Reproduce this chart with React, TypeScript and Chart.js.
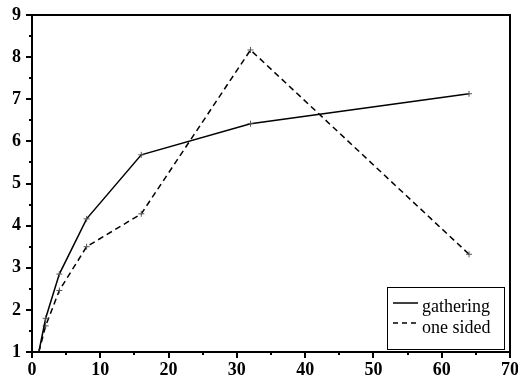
import React, { useEffect, useRef } from 'react';
import { Chart, registerables } from 'chart.js';

Chart.register(...registerables);

// Speedup curves for the two communication schemes
const processors = [1, 2, 4, 8, 16, 32, 64];
const gatheringSpeedup = [1.0, 1.8, 2.85, 4.16, 5.68, 6.42, 7.13];
const oneSidedSpeedup = [1.0, 1.62, 2.46, 3.5, 4.28, 8.17, 3.32];
const seriesNames = ['gathering', 'one sided'];

// Axis ranges and tick spacing
const xRange = [0, 70];
const xMajorStep = 10;
const xMinorStep = 5;
const yRange = [1, 9];
const yMajorStep = 1;
const yMinorStep = 0.5;

const SERIF = 'Liberation Serif, DejaVu Serif, serif';

const framePlugin = {
  id: 'frameAndTicks',
  afterDraw(chart: any) {
    const { ctx, chartArea: a, scales } = chart;
    const xs = scales.x;
    const ys = scales.y;
    ctx.save();
    ctx.strokeStyle = '#000';
    ctx.lineWidth = 2;
    ctx.lineCap = 'butt';
    // box around the plot area
    ctx.strokeRect(a.left, a.top, a.right - a.left, a.bottom - a.top);
    // x tick marks (outward, below axis)
    ctx.beginPath();
    for (let v = xRange[0]; v <= xRange[1] + 1e-9; v += xMinorStep) {
      const px = Math.round(xs.getPixelForValue(v));
      const major = Math.abs(v / xMajorStep - Math.round(v / xMajorStep)) < 1e-6;
      const len = major ? 6 : 3;
      ctx.moveTo(px, a.bottom);
      ctx.lineTo(px, a.bottom + len);
    }
    // y tick marks (outward, left of axis)
    for (let v = yRange[0]; v <= yRange[1] + 1e-9; v += yMinorStep) {
      const py = Math.round(ys.getPixelForValue(v));
      const major = Math.abs(v / yMajorStep - Math.round(v / yMajorStep)) < 1e-6;
      const len = major ? 6 : 3;
      ctx.moveTo(a.left, py);
      ctx.lineTo(a.left - len, py);
    }
    ctx.stroke();

    // legend box in the lower right corner
    const bx = 387, by = 287, bw = 117, bh = 62;
    ctx.fillStyle = '#fff';
    ctx.fillRect(bx, by, bw, bh);
    ctx.lineWidth = 1;
    ctx.strokeRect(bx + 0.5, by + 0.5, bw, bh);
    const rows = [
      { y: 303, dash: [] as number[], label: seriesNames[0], base: 312 },
      { y: 323, dash: [5, 4], label: seriesNames[1], base: 333 },
    ];
    ctx.font = `18px ${SERIF}`;
    ctx.textBaseline = 'alphabetic';
    ctx.textAlign = 'left';
    for (const r of rows) {
      ctx.beginPath();
      ctx.setLineDash(r.dash);
      ctx.lineWidth = 1.5;
      ctx.moveTo(393, r.y);
      ctx.lineTo(418, r.y);
      ctx.stroke();
      ctx.setLineDash([]);
      ctx.fillStyle = '#000';
      ctx.fillText(r.label, 422, r.base);
    }
    ctx.restore();
  },
};

export default function App() {
  const ref = useRef<HTMLCanvasElement>(null);

  useEffect(() => {
    if (!ref.current) return;
    const toPoints = (ys: number[]) => processors.map((x, i) => ({ x, y: ys[i] }));
    const chart = new Chart(ref.current, {
      type: 'line',
      data: {
        datasets: [
          {
            label: seriesNames[0],
            data: toPoints(gatheringSpeedup),
            borderColor: '#000',
            borderWidth: 1.5,
            pointStyle: 'cross',
            pointRadius: 3,
            pointBorderWidth: 1,
            pointBorderColor: '#555',
            fill: false,
            tension: 0,
          },
          {
            label: seriesNames[1],
            data: toPoints(oneSidedSpeedup),
            borderColor: '#000',
            borderWidth: 1.5,
            borderDash: [6, 4],
            pointStyle: 'cross',
            pointRadius: 3,
            pointBorderWidth: 1,
            pointBorderColor: '#555',
            fill: false,
            tension: 0,
          },
        ],
      },
      options: {
        responsive: false,
        animation: false,
        font: { family: SERIF },
        layout: { padding: { top: 15, right: 8, left: 0, bottom: 0 } },
        plugins: {
          legend: { display: false },
          tooltip: { enabled: false },
        },
        scales: {
          x: {
            type: 'linear',
            min: xRange[0],
            max: xRange[1],
            border: { display: false },
            grid: { display: false, drawTicks: false, tickLength: 0 },
            ticks: {
              stepSize: xMajorStep,
              color: '#000',
              padding: 8,
              maxRotation: 0,
              font: { family: SERIF, size: 18, weight: 'bold' },
            },
            afterFit(scale: any) {
              scale.height = 30;
              scale.paddingLeft = 0;
              scale.paddingRight = 0;
            },
          },
          y: {
            type: 'linear',
            min: yRange[0],
            max: yRange[1],
            border: { display: false },
            grid: { display: false, drawTicks: false, tickLength: 0 },
            ticks: {
              stepSize: yMajorStep,
              color: '#000',
              padding: 11,
              font: { family: SERIF, size: 18, weight: 'bold' },
            },
            afterFit(scale: any) {
              scale.width = 32;
              scale.paddingTop = 0;
              scale.paddingBottom = 0;
            },
          },
        },
      } as any,
      plugins: [framePlugin],
    });
    return () => chart.destroy();
  }, []);

  return (
    <div style={{ position: 'absolute', left: 0, top: 0, width: 518, height: 382, background: '#fff' }}>
      <canvas ref={ref} width={518} height={382} style={{ display: 'block' }} />
    </div>
  );
}
